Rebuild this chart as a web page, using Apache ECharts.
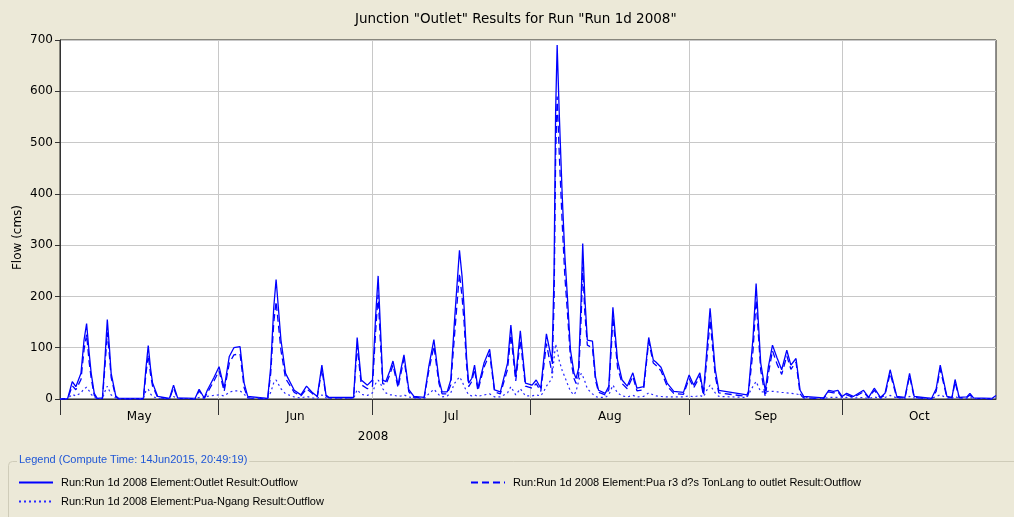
<!DOCTYPE html>
<html>
<head>
<meta charset="utf-8">
<script src="https://cdn.jsdelivr.net/npm/echarts@6/dist/echarts.min.js"></script>
<style>
html,body{margin:0;padding:0;background:#ece9d8;}
#chart{width:1014px;height:517px;}
</style>
</head>
<body>
<div id="chart"></div>
<script>
// days since 01May2008 00:00
let days = [
  0,1.5,2.4,3.1,4.1,4.7,5.2,5.7,6.1,6.7,7.3,8.3,8.8,9.25,9.7,10,10.9,11.5,
  16.3,16.8,17.25,17.7,18.1,19.1,21.4,22.2,23,26.4,27.2,28.2,28.8,30.1,31.1,32.1,33.1,34,35.2,36,36.7,
  40.6,41.2,41.8,42.25,43.2,44.1,45.8,47.1,48.2,49.4,50.3,51.2,52,52.6,57.4,58.1,58.9,60.1,61.1,
  61.7,62.2,62.6,63.1,63.7,64.5,65.1,66.1,66.7,67.25,68.2,69.2,71.2,72.1,73.1,74.1,74.7,75.7,76.4,
  77.1,78.1,78.6,79,79.5,79.9,80.5,81.05,81.7,82.9,84,84.96,86.1,87.5,88.15,89.1,90,91,92.3,
  93.1,94,94.6,95.1,96.2,96.6,96.9,97.2,97.6,98.2,98.7,99.2,99.8,100.5,100.9,101.4,101.9,102.2,102.6,
  103.1,104.1,104.7,105.3,106.6,107.3,107.8,108.1,109,109.9,110.9,112,112.8,114.1,115.1,116,116.5,117.5,118.7,
  120,121.9,123,123.9,125.1,125.8,126.5,127.1,128.1,128.8,134.3,134.6,135.5,136.1,137,137.9,138.5,139.3,140.2,
  141.1,142.1,142.9,143.9,144.7,145.4,149.3,150.3,151.2,152.1,152.9,153.8,155.1,157.1,158.1,159.2,160.4,161.3,162.3,
  163.6,165.2,166.1,167,170.4,171.3,172.1,173.4,174.4,175,175.8,177.3,177.9,178.6,182.2,183
]
// Outlet outflow (cms)
let outlet = [
  0,1,34,24,50,115,147,90,50,11,1,2,80,155,95,50,6,1,
  1,60,104,60,31,5,1,27,2,1,19,2,17,42,63,21,83,100,102,31,5,
  1,63,180,233,115,50,17,8,25,12,5,66,8,3,3,120,37,27,37,
  160,240,150,37,34,55,74,27,60,86,18,5,3,63,116,37,14,14,37,
  148,290,240,180,80,31,40,66,21,70,97,18,14,70,144,43,133,31,27,
  37,21,80,127,73,250,560,690,560,394,280,200,96,50,40,60,200,303,200,
  115,113,43,17,11,25,120,179,76,37,25,51,21,24,120,76,72,62,31,
  15,13,47,27,51,11,100,177,58,17,8,15,120,225,70,16,63,105,80,
  57,95,66,79,17,5,2,17,15,17,5,11,5,17,3,21,3,11,57,
  5,3,50,5,1,20,66,5,3,38,3,4,11,2,1,7
]
// Pua r3 reach to outlet (cms)
let puaReach = [
  0,0,26,18,38,96,126,72,40,7,0,1,65,130,80,42,4,0,
  0,48,86,48,25,3,0,22,1,0,16,1,12,35,55,15,70,86,88,22,2,
  0,50,150,190,95,40,13,6,20,10,4,58,6,2,2,103,28,20,25,
  130,203,120,30,28,48,66,22,52,78,14,3,2,55,103,30,10,10,28,
  120,245,200,150,65,24,34,58,16,62,88,14,10,58,125,35,115,25,21,
  30,15,65,108,50,190,470,590,480,340,240,170,80,40,30,45,160,258,170,
  105,100,36,13,8,18,100,160,62,30,20,44,16,18,112,70,66,55,25,
  11,9,40,22,44,7,80,154,45,12,5,10,95,193,56,4,50,94,68,
  48,84,58,72,10,2,1,14,12,14,3,8,3,14,2,17,2,8,50,
  3,2,45,3,0,15,58,3,2,33,2,3,8,1,0,5
]
// Pua-Ngang subbasin (cms)
let puaNgang = [
  0,1,9,6,12,20,23,16,9,3,1,1,15,25,15,8,2,0,
  1,16,19,10,5,1,1,5,1,1,3,1,5,7,8,6,13,16,16,9,3,
  1,13,32,37,20,10,4,2,5,2,1,8,2,1,1,18,9,7,12,
  30,37,32,20,12,8,8,5,6,8,4,2,1,10,19,8,4,6,12,
  30,43,35,25,15,8,6,8,5,8,10,4,4,12,24,8,20,6,6,
  8,6,15,25,40,80,107,95,75,55,43,30,15,8,15,35,50,45,35,
  20,10,5,3,3,8,20,27,12,6,4,7,4,5,12,8,6,5,4,
  4,4,6,4,7,4,18,27,12,5,3,5,25,34,14,14,15,15,14,
  13,12,11,10,8,3,1,3,3,3,2,3,2,3,1,4,1,3,7,
  2,1,5,2,1,5,8,2,1,5,1,1,3,1,1,2
]

let monthLabels = ['May','Jun','Jul','Aug','Sep','Oct']
let monthStartDays = [0,31,61,92,123,153]
let monthMidDays = [15.5,46,76.5,107.5,138,168]
let yearLabel = '2008'
let yearLabelDay = 61.2

let nameOutlet = 'Run:Run 1d 2008 Element:Outlet Result:Outflow'
let namePua = 'Run:Run 1d 2008 Element:Pua r3 d?s TonLang to outlet Result:Outflow'
let nameNgang = 'Run:Run 1d 2008 Element:Pua-Ngang Result:Outflow'

function pairs(vals){
  return days.map((d,i)=>[d, vals[i]])
}

let chart = echarts.init(document.getElementById('chart'))
let lblFont = {fontFamily: 'DejaVu Sans', fontSize: 12, color: '#000'}
let legFont = {fontFamily: 'Liberation Sans', fontSize: 11, color: '#000', padding: [0,0,0,3]}
// hide the round marker that echarts puts on line legend icons
let legMarker = {opacity: 0, color: 'rgba(0,0,0,0)', borderWidth: 0}

chart.setOption({
  animation: false,
  backgroundColor: '#ece9d8',
  title: [
    {
      text: 'Junction "Outlet" Results for Run "Run 1d 2008"',
      left: 355, top: 12, padding: 0,
      textStyle: {fontFamily: 'DejaVu Sans', fontSize: 13.5, fontWeight: 'normal', color: '#000'}
    },
    {
      text: 'Legend (Compute Time: 14Jun2015, 20:49:19)',
      left: 17, top: 454, padding: [0,2],
      backgroundColor: '#ece9d8',
      textStyle: {fontFamily: 'Liberation Sans', fontSize: 11, fontWeight: 'normal', color: '#1f56d6'}
    }
  ],
  grid: {
    left: 60, right: 18, top: 40, bottom: 118,
    show: true, backgroundColor: '#fff', borderColor: '#222', borderWidth: 1,
    outerBoundsMode: 'none'
  },
  legend: [
    {
      data: [nameOutlet, nameNgang], orient: 'vertical', left: 18, top: 477, padding: 0,
      itemWidth: 34, itemHeight: 12, itemGap: 8, textStyle: legFont, itemStyle: legMarker
    },
    {
      data: [namePua], orient: 'vertical', left: 470, top: 477, padding: 0,
      itemWidth: 34, itemHeight: 12, itemGap: 8, textStyle: legFont, itemStyle: legMarker
    }
  ],
  xAxis: [
    {
      type: 'value', min: 0, max: 183, position: 'bottom',
      axisLine: {show: true, onZero: false, lineStyle: {color: '#333'}},
      axisTick: {show: true, length: 16, customValues: monthStartDays, lineStyle: {color: '#333'}},
      axisLabel: Object.assign({
        customValues: monthMidDays, margin: 12,
        formatter: function(v){
          let k = 0
          for (let i=0;i<monthMidDays.length;i++){ if (Math.abs(monthMidDays[i]-v) < 0.01) k = i }
          return monthLabels[k]
        }
      }, lblFont),
      splitLine: {show: true, lineStyle: {color: '#c8c8c8'}}
    },
    {
      type: 'value', min: 0, max: 183, position: 'bottom',
      axisLine: {show: false}, axisTick: {show: false}, splitLine: {show: false},
      axisLabel: Object.assign({customValues: [yearLabelDay], margin: 32, formatter: function(){ return yearLabel }}, lblFont)
    }
  ],
  yAxis: {
    type: 'value', min: 0, max: 700, interval: 100,
    name: 'Flow (cms)', nameLocation: 'middle', nameGap: 36, nameRotate: 90, nameMoveOverlap: false,
    nameTextStyle: {fontFamily: 'DejaVu Sans', fontSize: 12, color: '#000', padding: [0,36,0,0]},
    axisLine: {show: true, lineStyle: {color: '#333'}},
    axisTick: {show: true, length: 5, lineStyle: {color: '#333'}},
    axisLabel: Object.assign({margin: 7}, lblFont),
    splitLine: {show: true, lineStyle: {color: '#c8c8c8'}}
  },
  graphic: [
    {type: 'rect', left: 6, top: 459, z: 0, shape: {width: 1030, height: 80, r: 4},
     style: {fill: 'none', stroke: '#cfccb9', lineWidth: 1}}
  ],
  series: [
    {
      name: nameOutlet, type: 'line', data: pairs(outlet), symbol: 'none', showSymbol: false,
      lineStyle: {color: '#0000ff', width: 1.3, type: 'solid'}, itemStyle: {color: '#0000ff'}
    },
    {
      name: namePua, type: 'line', data: pairs(puaReach), symbol: 'none', showSymbol: false,
      lineStyle: {color: '#0000ff', width: 1.3, type: [7,4]}, itemStyle: {color: '#0000ff'}
    },
    {
      name: nameNgang, type: 'line', data: pairs(puaNgang), symbol: 'none', showSymbol: false,
      lineStyle: {color: '#2828ff', width: 1.2, type: [2,3]}, itemStyle: {color: '#2828ff'}
    }
  ]
})
</script>
</body>
</html>
